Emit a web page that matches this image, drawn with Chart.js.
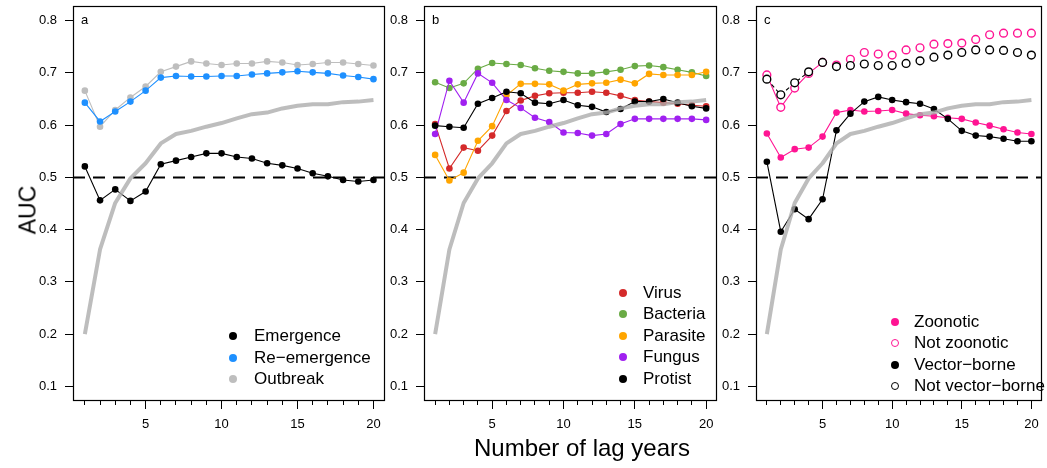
<!DOCTYPE html>
<html><head><meta charset="utf-8">
<script src="https://cdn.jsdelivr.net/npm/chart.js@4.4.1/dist/chart.umd.min.js"></script>
<style>
html,body{margin:0;padding:0;background:#fff;}
#wrap{position:relative;width:1047px;height:468px;overflow:hidden;font-family:"Liberation Sans",Arial,Helvetica,sans-serif;color:#000;}
canvas{position:absolute;top:0;}
.t{position:absolute;white-space:nowrap;}
.lg{position:absolute;height:22px;line-height:22px;font-size:17px;white-space:nowrap;}
.mk{position:absolute;box-sizing:border-box;border-radius:50%;}
</style></head><body><div id="wrap">
<canvas id="ca" width="388" height="440" style="left:0px"></canvas>
<canvas id="cb" width="330" height="440" style="left:390px"></canvas>
<canvas id="cc" width="327" height="440" style="left:720px"></canvas>
</div>
<script>
// ---- data ----
const lags = [1,2,3,4,5,6,7,8,9,10,11,12,13,14,15,16,17,18,19,20];
const xLabels = [5,10,15,20];
const yTicks = [0.1,0.2,0.3,0.4,0.5,0.6,0.7,0.8];
const REF = 0.5;

const baseline = [0.200,0.362,0.451,0.498,0.527,0.565,0.583,0.589,0.597,0.604,0.613,0.621,0.624,0.632,0.637,0.640,0.640,0.644,0.645,0.648];

const emergence   = [0.521,0.456,0.477,0.455,0.473,0.525,0.532,0.539,0.546,0.546,0.539,0.536,0.527,0.523,0.517,0.508,0.502,0.495,0.492,0.495];
const reemergence = [0.643,0.607,0.626,0.645,0.666,0.691,0.694,0.693,0.693,0.694,0.694,0.697,0.699,0.701,0.703,0.701,0.699,0.695,0.692,0.688];
const outbreak    = [0.666,0.597,0.629,0.653,0.674,0.702,0.712,0.722,0.718,0.715,0.718,0.718,0.722,0.720,0.715,0.717,0.720,0.720,0.717,0.714];

const virus    = [0.602,0.517,0.557,0.551,0.580,0.627,0.647,0.656,0.661,0.662,0.662,0.664,0.662,0.656,0.648,0.645,0.643,0.641,0.638,0.636];
const bacteria = [0.682,0.671,0.680,0.708,0.719,0.717,0.715,0.709,0.704,0.702,0.699,0.699,0.702,0.706,0.713,0.714,0.711,0.706,0.701,0.694];
const parasite = [0.543,0.494,0.509,0.570,0.598,0.657,0.679,0.679,0.678,0.666,0.678,0.680,0.681,0.687,0.680,0.698,0.696,0.696,0.696,0.702];
const fungus   = [0.583,0.685,0.643,0.699,0.681,0.648,0.633,0.614,0.606,0.586,0.585,0.580,0.583,0.602,0.612,0.612,0.612,0.612,0.612,0.610];
const protist  = [0.599,0.597,0.595,0.641,0.652,0.664,0.661,0.643,0.641,0.648,0.638,0.635,0.625,0.631,0.645,0.645,0.650,0.643,0.636,0.632];

const zoonotic    = [0.584,0.538,0.554,0.557,0.578,0.624,0.629,0.626,0.627,0.629,0.622,0.619,0.617,0.614,0.612,0.605,0.599,0.592,0.586,0.583];
const notZoonotic = [0.696,0.634,0.671,0.699,0.720,0.715,0.726,0.739,0.736,0.734,0.744,0.748,0.755,0.756,0.757,0.764,0.773,0.776,0.776,0.776];
const vectorBorne = [0.530,0.396,0.439,0.420,0.458,0.590,0.622,0.645,0.654,0.648,0.644,0.641,0.631,0.612,0.589,0.580,0.578,0.574,0.569,0.569];
const notVector   = [0.688,0.658,0.681,0.702,0.720,0.712,0.714,0.717,0.714,0.714,0.718,0.723,0.730,0.734,0.739,0.744,0.744,0.743,0.739,0.734];

// ---- styles ----
const C = {black:'#000000', blue:'#1E90FF', grey:'#BEBEBE', red:'#D42A2A', green:'#6AAB45',
           orange:'#FFA500', purple:'#A020F0', pink:'#FF1493'};
const X_MIN = 0.22, X_MAX = 20.74, Y_MIN = 0.072, Y_MAX = 0.828;

Chart.defaults.font.family = '"Liberation Sans", Arial, Helvetica, sans-serif';
Chart.defaults.font.size = 13;
Chart.defaults.color = '#000';

function pts(vals){ return lags.map((x,i)=>({x:x,y:vals[i]})); }
function filled(label, vals, color){
  return {label, data:pts(vals), borderColor:color, backgroundColor:color,
    pointBackgroundColor:color, pointBorderColor:color, borderWidth:1.1,
    pointRadius:3.3, pointHoverRadius:3.3, pointBorderWidth:0, tension:0};
}
function openPts(label, vals, color, dash){
  return {label, data:pts(vals), borderColor:color, backgroundColor:'#fff',
    pointBackgroundColor:'#fff', pointBorderColor:color, borderWidth:1.1, borderDash:dash,
    pointRadius:3.9, pointHoverRadius:3.9, pointBorderWidth:1.4, tension:0,
    segment:{borderColor:c=>Math.hypot(c.p1.x-c.p0.x, c.p1.y-c.p0.y) > 17 ? color : 'rgba(0,0,0,0)'}};
}
function baseDs(){
  return {label:'base', data:pts(baseline), borderColor:'rgba(172,172,172,0.8)', borderWidth:4,
    pointRadius:0, pointHoverRadius:0, tension:0, borderCapStyle:'butt', borderJoinStyle:'round', order:0};
}
function refDs(){
  return {label:'ref', data:[{x:X_MIN,y:REF},{x:X_MAX,y:REF}], borderColor:'#000', borderWidth:2,
    borderDash:[12,8], pointRadius:0, pointHoverRadius:0, order:100};
}

const framePlugin = {id:'frame', afterDraw(chart){
  const a = chart.chartArea, c = chart.ctx;
  c.save(); c.strokeStyle = '#000'; c.lineWidth = 1.2;
  c.strokeRect(Math.round(a.left)+0.5, Math.round(a.top)+0.5, Math.round(a.right-a.left)-1, Math.round(a.bottom-a.top)-1);
  c.restore();
}};

function scales(yw){
  return {
    x:{type:'linear', min:X_MIN, max:X_MAX,
      afterBuildTicks:s=>{ s.ticks = lags.map(v=>({value:v})); },
      afterFit:s=>{ s.height = 39; s.paddingLeft = 0; s.paddingRight = 0; },
      grid:{drawOnChartArea:false, drawTicks:true, tickLength:8, tickColor:'#000', tickWidth:1,
        tickBorderDash:c=>(c.tick && xLabels.includes(c.tick.value)) ? [] : [4,30]},
      border:{display:false},
      ticks:{autoSkip:false, maxRotation:0, minRotation:0, padding:8, color:'#000', font:{size:13},
        callback:v=>xLabels.includes(v) ? String(v) : ''}},
    y:{type:'linear', min:Y_MIN, max:Y_MAX,
      afterBuildTicks:s=>{ s.ticks = yTicks.map(v=>({value:v})); },
      afterFit:s=>{ s.width = yw; s.paddingTop = 0; s.paddingBottom = 0; },
      grid:{drawOnChartArea:false, drawTicks:true, tickLength:8, tickColor:'#000', tickWidth:1},
      border:{display:false},
      ticks:{padding:8, color:'#000', font:{size:13}, callback:v=>Number(v).toFixed(1)}}
  };
}

function makeChart(id, series, yw, padRight){
  const n = series.length;
  series.forEach((d,i)=>{ d.order = n - i + 1; });
  new Chart(document.getElementById(id), {
    type:'line',
    data:{datasets:[refDs()].concat(series).concat([baseDs()])},
    options:{responsive:false, animation:false, events:[],
      layout:{padding:{top:6, right:padRight, left:0, bottom:0}},
      scales:scales(yw),
      plugins:{legend:{display:false}, tooltip:{enabled:false}}},
    plugins:[framePlugin]
  });
}

makeChart('ca', [filled('Outbreak', outbreak, C.grey), filled('Re−emergence', reemergence, C.blue), filled('Emergence', emergence, C.black)], 73, 2);
makeChart('cb', [filled('Virus', virus, C.red), filled('Bacteria', bacteria, C.green), filled('Parasite', parasite, C.orange), filled('Fungus', fungus, C.purple), filled('Protist', protist, C.black)], 34, 2);
makeChart('cc', [filled('Zoonotic', zoonotic, C.pink), openPts('Not zoonotic', notZoonotic, C.pink, []), filled('Vector−borne', vectorBorne, C.black), openPts('Not vector−borne', notVector, C.black, [4,3])], 36, 2);

// ---- text overlays ----
const wrap = document.getElementById('wrap');
function txt(s, css){ const d=document.createElement('div'); d.className='t'; d.textContent=s; d.style.cssText+=css; wrap.appendChild(d); return d; }
txt('AUC', 'left:28px;top:210px;font-size:23px;transform:translate(-50%,-50%) rotate(-90deg);');
txt('Number of lag years', 'left:582px;top:448px;font-size:24px;transform:translate(-50%,-50%);');
txt('a', 'left:81px;top:20px;font-size:13px;transform:translateY(-55%);');
txt('b', 'left:432px;top:20px;font-size:13px;transform:translateY(-55%);');
txt('c', 'left:764px;top:20px;font-size:13px;transform:translateY(-55%);');

function legend(items, dotX, textX, y0, dy){
  items.forEach((it,i)=>{
    const y = y0 + i*dy;
    const m = document.createElement('div'); m.className='mk';
    m.style.cssText += `left:${dotX-4}px;top:${y-4}px;width:8px;height:8px;` +
      (it.open ? `border:1.5px solid ${it.color};background:#fff;` : `background:${it.color};`);
    wrap.appendChild(m);
    const t = document.createElement('div'); t.className='lg'; t.textContent = it.label;
    t.style.cssText += `left:${textX}px;top:${y-11}px;`;
    wrap.appendChild(t);
  });
}
legend([{label:'Emergence',color:C.black},{label:'Re−emergence',color:C.blue},{label:'Outbreak',color:C.grey}], 233, 254, 336, 21.5);
legend([{label:'Virus',color:C.red},{label:'Bacteria',color:C.green},{label:'Parasite',color:C.orange},{label:'Fungus',color:C.purple},{label:'Protist',color:C.black}], 623, 643, 292.5, 21.5);
legend([{label:'Zoonotic',color:C.pink},{label:'Not zoonotic',color:C.pink,open:true},{label:'Vector−borne',color:C.black},{label:'Not vector−borne',color:C.black,open:true}], 895, 914, 322.3, 21.1);
</script>
</body></html>
